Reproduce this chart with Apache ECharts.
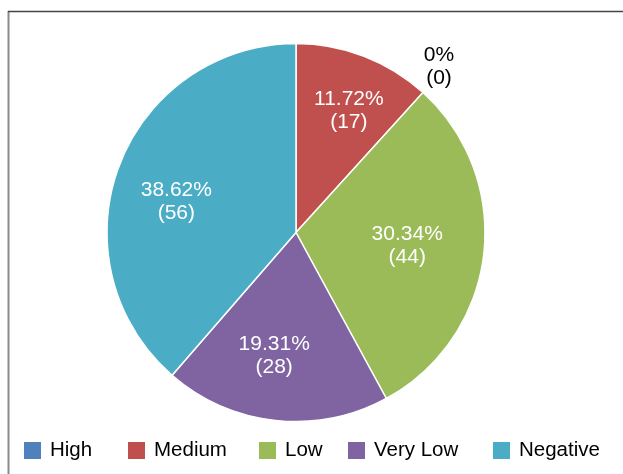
<!DOCTYPE html>
<html><head><meta charset="utf-8">
<script src="https://cdn.jsdelivr.net/npm/echarts@6/dist/echarts.min.js"></script>
<style>html,body{margin:0;padding:0;background:#fff}#c{width:623px;height:474px}</style>
</head><body><div id="c"></div>
<script>
// ---- data ----
const categories = ['High', 'Medium', 'Low', 'Very Low', 'Negative'];
const values = [0, 17, 44, 28, 56];

// ---- style ----
const colors = ['#4F81BD', '#C0504D', '#9BBB59', '#8064A2', '#4BACC6'];
const legendLeft = [24, 128, 259, 348, 493];
const labelRadiusFactor = [0.5, 0.71, 0.59, 0.655, 0.655];
const labelNudge = [[0, 0], [3, 7], [-3, 0], [-8, -4], [0, 14]];
const FONT = '"Liberation Sans", Arial, sans-serif';
const cx = 296, cy = 232.5, R = 189;

const total = values.reduce((a, b) => a + b, 0);
const fmt = p => {
  const pct = Number((p.value / total * 100).toFixed(2));
  return pct + '%\n(' + p.value + ')';
};

const chart = echarts.init(document.getElementById('c'), null, { renderer: 'canvas' });
chart.setOption({
  animation: false,
  backgroundColor: '#fff',
  color: colors,
  legend: categories.map((n, i) => ({
    data: [n], left: legendLeft[i], top: 440, padding: 0, itemGap: 0,
    itemWidth: 17, itemHeight: 17, icon: 'rect', selectedMode: false,
    itemStyle: { borderWidth: 0 },
    textStyle: { fontSize: 20.5, color: '#000', fontFamily: FONT, padding: [3, 0, 0, 4] }
  })),
  graphic: [
    { type: 'line', shape: { x1: 8.5, y1: 11, x2: 8.5, y2: 474 }, style: { stroke: '#8a8a8a', lineWidth: 2 } },
    { type: 'line', shape: { x1: 8, y1: 11.5, x2: 623, y2: 11.5 }, style: { stroke: '#444', lineWidth: 1.5 } }
  ],
  series: [{
    type: 'pie',
    center: [cx, cy],
    radius: R,
    startAngle: 90,
    clockwise: true,
    avoidLabelOverlap: false,
    emphasis: { disabled: true },
    itemStyle: { borderColor: '#fff', borderWidth: 1.5 },
    label: {
      show: true, position: 'inside', formatter: fmt,
      color: '#fff', fontSize: 21, lineHeight: 23, fontFamily: FONT, align: 'center'
    },
    labelLine: { show: false },
    labelLayout: params => {
      const i = params.dataIndex;
      if (values[i] === 0) {
        return { x: 439, y: 67, align: 'center', verticalAlign: 'middle' };
      }
      const r = params.labelRect;
      const lx = r.x + r.width / 2, ly = r.y + r.height / 2;
      const k = labelRadiusFactor[i] / 0.5 - 1;
      return { dx: (lx - cx) * k + labelNudge[i][0], dy: (ly - cy) * k + labelNudge[i][1] };
    },
    data: categories.map((n, i) => ({
      name: n, value: values[i],
      label: values[i] === 0 ? { color: '#000' } : undefined
    }))
  }]
});
</script>
</body></html>
